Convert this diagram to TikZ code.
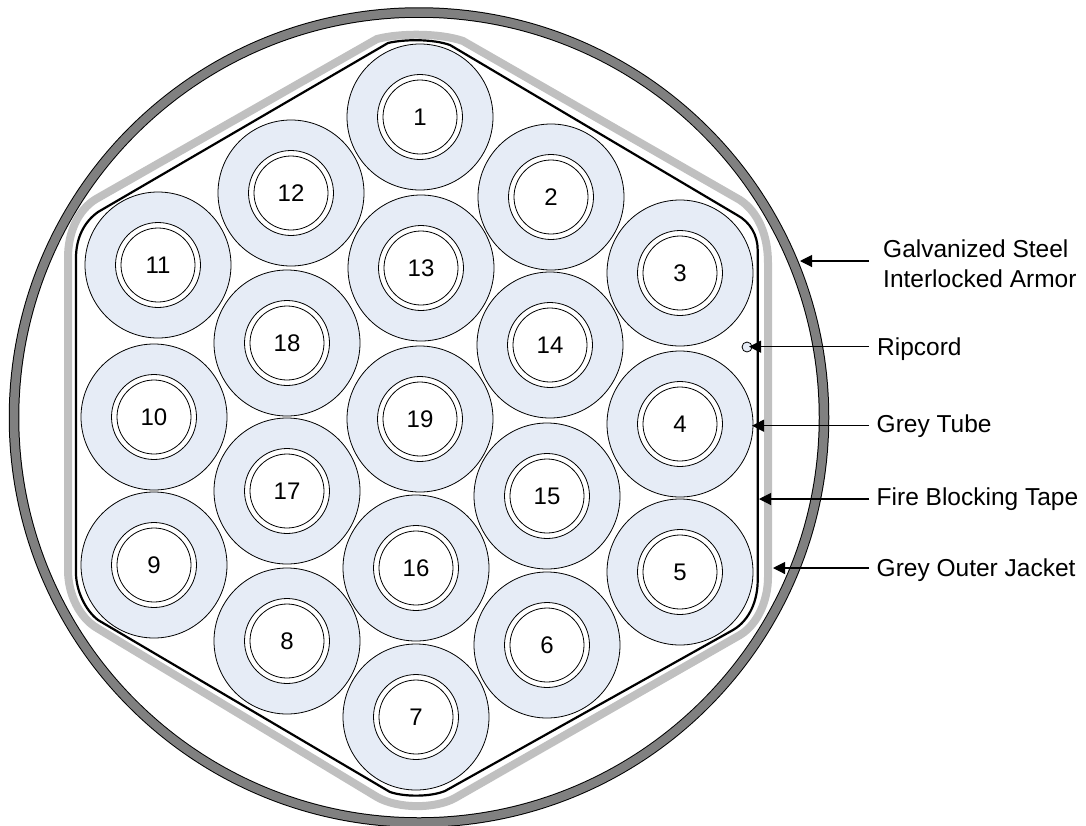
\documentclass[tikz,border=0pt]{standalone}
\usepackage{fontspec}
\setmainfont{Liberation Sans}
\usetikzlibrary{arrows.meta}
\definecolor{tubeblue}{HTML}{E6ECF6}
\definecolor{armorgrey}{HTML}{808080}
\definecolor{jacketgrey}{HTML}{C0C0C0}
\tikzstyle{tubeo}=[circle,draw=black,line width=0.8pt,fill=tubeblue,minimum size=146pt,inner sep=0pt]
\tikzstyle{tubem}=[circle,draw=black,line width=0.8pt,fill=white,minimum size=85pt,inner sep=0pt]
\tikzstyle{tubei}=[circle,draw=black,line width=0.8pt,fill=white,minimum size=74pt,inner sep=0pt,font=\fontsize{24}{28}\selectfont]
\tikzstyle{lbl}=[anchor=base west,inner sep=0pt,align=left,font=\fontsize{24.5}{29.5}\selectfont]
\tikzstyle{pointer}=[-{Triangle[length=12pt,width=12pt]},line width=1.1pt]

\begin{document}
\begin{tikzpicture}[x=1pt,y=-1pt]
    \useasboundingbox (0,0) rectangle (1086,825);
    % armor ring
    \draw[line width=10.5pt,draw=black] (419,417.5) circle (405);
    \draw[line width=8.5pt,draw=armorgrey] (419,417.5) circle (405);
    % outer jacket
    \draw[line width=8pt,draw=jacketgrey,line join=round]
        (377,39) .. controls (400,33) and (440,33) .. (463,41)
        -- (740,200) .. controls (758,212) and (768,235) .. (768,263)
        -- (768,577) .. controls (768,600) and (758,624) .. (740,635)
        -- (455,798) .. controls (435,809) and (398,809) .. (377,797)
        -- (97,628) .. controls (80,618) and (68,595) .. (68,570)
        -- (68,258) .. controls (68,232) and (78,210) .. (96,199)
        -- cycle;
    % fire blocking tape
    \draw[line width=2.2pt,draw=black,line join=round]
        (388,43) .. controls (405,39) and (433,39) .. (450,45)
        -- (737,215) .. controls (750,222) and (757.7,235) .. (757.7,250)
        -- (757.7,580) .. controls (757.7,600) and (750,620) .. (733,630)
        -- (445,791) .. controls (430,797) and (405,797) .. (390,792)
        -- (98,620) .. controls (85,610) and (76,590) .. (76,573)
        -- (76,258) .. controls (76,238) and (84,222) .. (98,212)
        -- cycle;
    % tubes
    \foreach \id/\cx/\cy in {1/420/117,2/551/197,3/680/273,4/680/424,5/680/572,6/547/645,7/416/717,8/287/641,9/154/565,10/154/417,11/158/265,12/291/193,13/421/268,14/550/345,15/547/496,16/416/568,17/287/491,18/287/343,19/420/419}
    {
        \node[tubeo] (t\id) at (\cx,\cy) {};
        \node[tubem] at (\cx,\cy) {};
        \node[tubei] (n\id) at (\cx,\cy) {\id};
    }
    % ripcord
    \node[circle,draw=black,line width=0.8pt,fill=tubeblue,minimum size=10pt,inner sep=0pt] (rip) at (747,347) {};
    % labels
    \node[lbl] (armor) at (883,287) {Galvanized Steel\\Interlocked Armor};
    \node[lbl] (ripcord) at (877,355.6) {Ripcord};
    \node[lbl] (tube) at (876.5,432.6) {Grey Tube};
    \node[lbl] (tape) at (876.5,505.6) {Fire Blocking Tape};
    \node[lbl] (jacket) at (876.5,576.6) {Grey Outer Jacket};
    % targets
    \coordinate (a1) at (800,261);
    \coordinate (a2) at (749,346.7);
    \coordinate (a3) at (752,425.7);
    \coordinate (a4) at (759,499);
    \coordinate (a5) at (773,568);
    \coordinate (s1) at (869,261);
    \coordinate (s2) at (869,346.7);
    \coordinate (s3) at (869,425.7);
    \coordinate (s4) at (869,499);
    \coordinate (s5) at (869,568);
    \foreach \from/\to in {s1/a1,s2/a2,s3/a3,s4/a4,s5/a5}
    \draw[pointer] (\from) -- (\to);
\end{tikzpicture}
\end{document}
